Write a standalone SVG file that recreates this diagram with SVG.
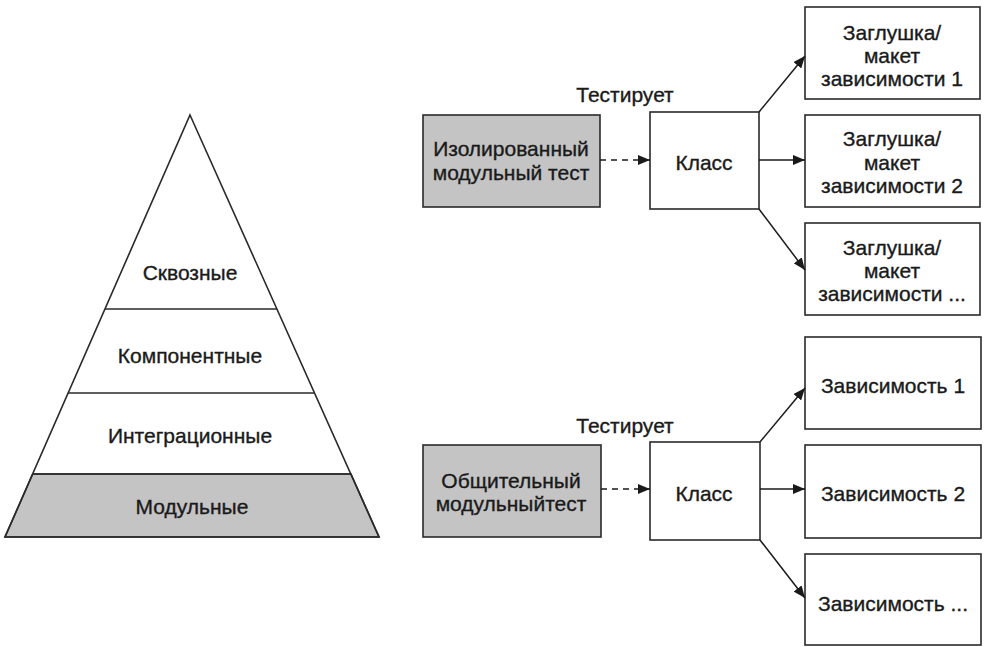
<svg xmlns="http://www.w3.org/2000/svg" width="984" height="647" viewBox="0 0 984 647">
<defs>
<marker id="ah" viewBox="0 0 12 10" refX="12" refY="5" markerWidth="12" markerHeight="10" markerUnits="userSpaceOnUse" orient="auto">
<path d="M0,0 L12,5 L0,10 Z" fill="#1a1a1a"/>
</marker>
<style>
text{font-family:"Liberation Sans",Arial,sans-serif;font-size:21px;fill:#1a1a1a;stroke:#1a1a1a;stroke-width:0.35;text-anchor:middle;dominant-baseline:central}
.box{fill:#fff;stroke:#2a2a2a;stroke-width:1.6}
.gray{fill:#c4c4c4;stroke:#2a2a2a;stroke-width:1.6}
.ln{fill:none;stroke:#2a2a2a;stroke-width:1.6}
.conn{fill:none;stroke:#1a1a1a;stroke-width:1.5;marker-end:url(#ah)}
.dash{stroke-dasharray:6 5}
</style>
</defs>
<rect width="984" height="647" fill="#fff"/>
<g id="pyramid">
<polygon class="gray" points="32.7,474 351,474 379,537 5,537"/>
<polygon class="ln" points="190,115 379,537 5,537"/>
<line class="ln" x1="105" y1="309" x2="277" y2="309"/>
<line class="ln" x1="68" y1="393" x2="314" y2="393"/>
<line class="ln" x1="32.7" y1="474" x2="351" y2="474"/>
<text x="190" y="272">Сквозные</text>
<text x="190" y="355">Компонентные</text>
<text x="190" y="435">Интеграционные</text>
<text x="192" y="506">Модульные</text>
</g>
<g id="isolated-test">
<rect class="gray" x="423" y="115" width="177" height="92"/>
<text x="511" y="148">Изолированный</text>
<text x="511" y="172">модульный тест</text>
</g>
<g id="label-tests-1"><text x="625" y="94">Тестирует</text></g>
<g id="class-1">
<rect class="box" x="650" y="112" width="109" height="97"/>
<text x="704" y="162">Класс</text>
</g>
<g id="stub-1">
<rect class="box" x="805" y="7" width="175" height="92"/>
<text x="892" y="32">Заглушка/</text>
<text x="892" y="55">макет</text>
<text x="892" y="78">зависимости 1</text>
</g>
<g id="stub-2">
<rect class="box" x="805" y="115" width="175" height="92"/>
<text x="892" y="138">Заглушка/</text>
<text x="892" y="162">макет</text>
<text x="892" y="185">зависимости 2</text>
</g>
<g id="stub-3">
<rect class="box" x="805" y="223" width="175" height="92"/>
<text x="892" y="247">Заглушка/</text>
<text x="892" y="270">макет</text>
<text x="892" y="293">зависимости ...</text>
</g>
<g id="sociable-test">
<rect class="gray" x="423" y="445" width="178" height="92"/>
<text x="511" y="480">Общительный</text>
<text x="511" y="503">модульныйтест</text>
</g>
<g id="label-tests-2"><text x="625" y="425">Тестирует</text></g>
<g id="class-2">
<rect class="box" x="650" y="442" width="110" height="98"/>
<text x="704" y="493">Класс</text>
</g>
<g id="dep-1">
<rect class="box" x="805" y="337" width="176" height="92"/>
<text x="893" y="385">Зависимость 1</text>
</g>
<g id="dep-2">
<rect class="box" x="805" y="445" width="176" height="93"/>
<text x="893" y="493">Зависимость 2</text>
</g>
<g id="dep-3">
<rect class="box" x="805" y="554" width="176" height="91"/>
<text x="893" y="603">Зависимость ...</text>
</g>
<g id="connectors">
<line class="conn dash" x1="600" y1="160" x2="650" y2="160"/>
<line class="conn" x1="759" y1="112" x2="805" y2="56"/>
<line class="conn" x1="759" y1="160" x2="805" y2="160"/>
<line class="conn" x1="759" y1="209" x2="805" y2="270"/>
<line class="conn dash" x1="601" y1="489" x2="650" y2="489"/>
<line class="conn" x1="760" y1="442" x2="805" y2="388"/>
<line class="conn" x1="760" y1="489" x2="805" y2="489"/>
<line class="conn" x1="760" y1="540" x2="805" y2="598"/>
</g>
</svg>
